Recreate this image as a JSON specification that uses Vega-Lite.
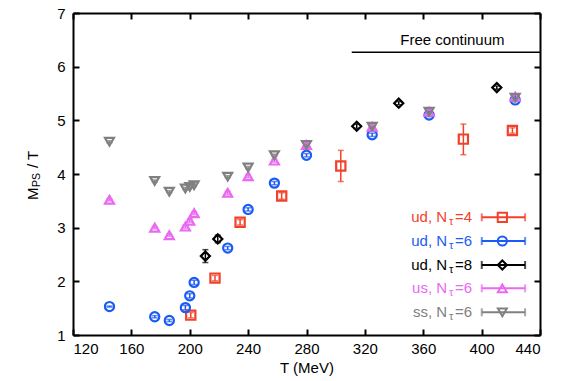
{
  "$schema": "https://vega.github.io/schema/vega-lite/v6.json",
  "width": 467,
  "height": 322,
  "autosize": {"type": "none"},
  "padding": {"left": 73, "top": 13, "right": 23, "bottom": 46},
  "background": "white",
  "config": {
    "view": {"stroke": null},
    "font": "Liberation Sans",
    "axis": {"domainColor": "black", "domainWidth": 2, "tickColor": "black", "tickWidth": 2, "tickSize": -6, "labelFont": "Liberation Sans", "labelFontSize": 15, "labelColor": "black", "grid": false, "titleFont": "Liberation Sans", "titleFontSize": 15, "titleFontWeight": "normal", "titleColor": "black"}
  },
  "datasets": {
    "pts": [
      {"s": "ud4", "T": 200.7, "v": 1.37, "lo": 1.32, "hi": 1.42},
      {"s": "ud4", "T": 217.3, "v": 2.06, "lo": 2.01, "hi": 2.11},
      {"s": "ud4", "T": 234.5, "v": 3.10, "lo": 3.05, "hi": 3.15},
      {"s": "ud4", "T": 263.0, "v": 3.59, "lo": 3.53, "hi": 3.65},
      {"s": "ud4", "T": 303.5, "v": 4.15, "lo": 3.86, "hi": 4.44},
      {"s": "ud4", "T": 387.5, "v": 4.65, "lo": 4.36, "hi": 4.93},
      {"s": "ud4", "T": 421.1, "v": 4.81, "lo": 4.76, "hi": 4.86},
      {"s": "ud6", "T": 145, "v": 1.53, "lo": 1.52, "hi": 1.54},
      {"s": "ud6", "T": 176, "v": 1.34, "lo": 1.32, "hi": 1.36},
      {"s": "ud6", "T": 186, "v": 1.27, "lo": 1.25, "hi": 1.29},
      {"s": "ud6", "T": 197, "v": 1.51, "lo": 1.47, "hi": 1.55},
      {"s": "ud6", "T": 200, "v": 1.73, "lo": 1.69, "hi": 1.77},
      {"s": "ud6", "T": 203, "v": 1.98, "lo": 1.94, "hi": 2.02},
      {"s": "ud6", "T": 226, "v": 2.62, "lo": 2.59, "hi": 2.65},
      {"s": "ud6", "T": 240, "v": 3.34, "lo": 3.31, "hi": 3.37},
      {"s": "ud6", "T": 258, "v": 3.83, "lo": 3.80, "hi": 3.86},
      {"s": "ud6", "T": 280, "v": 4.35, "lo": 4.32, "hi": 4.38},
      {"s": "ud6", "T": 325, "v": 4.73, "lo": 4.70, "hi": 4.76},
      {"s": "ud6", "T": 364, "v": 5.10, "lo": 5.07, "hi": 5.13},
      {"s": "ud6", "T": 423, "v": 5.38, "lo": 5.35, "hi": 5.41},
      {"s": "ud8", "T": 210.7, "v": 2.47, "lo": 2.35, "hi": 2.59},
      {"s": "ud8", "T": 219.2, "v": 2.79, "lo": 2.72, "hi": 2.86},
      {"s": "ud8", "T": 314.4, "v": 4.89, "lo": 4.85, "hi": 4.93},
      {"s": "ud8", "T": 343.2, "v": 5.32, "lo": 5.29, "hi": 5.35},
      {"s": "ud8", "T": 410.4, "v": 5.61, "lo": 5.58, "hi": 5.64},
      {"s": "us6", "T": 145, "v": 3.52, "lo": 3.50, "hi": 3.54},
      {"s": "us6", "T": 176, "v": 3.00, "lo": 2.98, "hi": 3.02},
      {"s": "us6", "T": 186, "v": 2.86, "lo": 2.84, "hi": 2.88},
      {"s": "us6", "T": 197, "v": 3.02, "lo": 2.99, "hi": 3.05},
      {"s": "us6", "T": 200, "v": 3.13, "lo": 3.10, "hi": 3.16},
      {"s": "us6", "T": 203, "v": 3.27, "lo": 3.24, "hi": 3.30},
      {"s": "us6", "T": 226, "v": 3.65, "lo": 3.62, "hi": 3.68},
      {"s": "us6", "T": 240, "v": 3.96, "lo": 3.93, "hi": 3.99},
      {"s": "us6", "T": 258, "v": 4.25, "lo": 4.22, "hi": 4.28},
      {"s": "us6", "T": 280, "v": 4.54, "lo": 4.51, "hi": 4.57},
      {"s": "us6", "T": 325, "v": 4.88, "lo": 4.85, "hi": 4.91},
      {"s": "us6", "T": 364, "v": 5.16, "lo": 5.13, "hi": 5.19},
      {"s": "us6", "T": 423, "v": 5.44, "lo": 5.41, "hi": 5.47},
      {"s": "ss6", "T": 145, "v": 4.60, "lo": 4.58, "hi": 4.62},
      {"s": "ss6", "T": 176, "v": 3.87, "lo": 3.85, "hi": 3.89},
      {"s": "ss6", "T": 186, "v": 3.67, "lo": 3.65, "hi": 3.69},
      {"s": "ss6", "T": 197, "v": 3.73, "lo": 3.71, "hi": 3.75},
      {"s": "ss6", "T": 200, "v": 3.76, "lo": 3.74, "hi": 3.78},
      {"s": "ss6", "T": 203, "v": 3.79, "lo": 3.77, "hi": 3.81},
      {"s": "ss6", "T": 226, "v": 3.95, "lo": 3.93, "hi": 3.97},
      {"s": "ss6", "T": 240, "v": 4.12, "lo": 4.10, "hi": 4.14},
      {"s": "ss6", "T": 258, "v": 4.35, "lo": 4.33, "hi": 4.37},
      {"s": "ss6", "T": 280, "v": 4.54, "lo": 4.52, "hi": 4.56},
      {"s": "ss6", "T": 325, "v": 4.88, "lo": 4.86, "hi": 4.90},
      {"s": "ss6", "T": 364, "v": 5.16, "lo": 5.14, "hi": 5.18},
      {"s": "ss6", "T": 423, "v": 5.42, "lo": 5.40, "hi": 5.44}
    ],
    "leg": [
      {"s": "ud4", "v": 3.193, "pre": "ud, N", "post": "=4"},
      {"s": "ud6", "v": 2.751, "pre": "ud, N", "post": "=6"},
      {"s": "ud8", "v": 2.304, "pre": "ud, N", "post": "=8"},
      {"s": "us6", "v": 1.870, "pre": "us, N", "post": "=6"},
      {"s": "ss6", "v": 1.423, "pre": "ss, N", "post": "=6"}
    ],
    "free": [{"T1": 311, "T2": 440, "v": 6.27, "tT": 380, "tv": 6.5, "label": "Free continuum"}]
  },
  "layer": [
    {
      "data": {"name": "pts"},
      "mark": {"type": "rule", "strokeWidth": 1.5},
      "encoding": {
        "x": {"field": "T", "type": "quantitative", "scale": {"domain": [120, 440], "nice": false, "zero": false},
              "axis": {"values": [120, 160, 200, 240, 280, 320, 360, 400, 440], "labelPadding": 12, "title": "T (MeV)", "titlePadding": 4}},
        "y": {"field": "lo", "type": "quantitative", "scale": {"domain": [1, 7], "nice": false, "zero": false},
              "axis": {"values": [1, 2, 3, 4, 5, 6, 7], "labelPadding": 14, "title": null}},
        "y2": {"field": "hi"},
        "color": {"field": "s", "type": "nominal", "scale": {"domain": ["ud4", "ud6", "ud8", "us6", "ss6"], "range": ["#f2412a", "#1b5bf5", "#000000", "#ea68f2", "#808080"]}, "legend": null}
      }
    },
    {
      "data": {"name": "pts"},
      "mark": {"type": "point", "shape": "stroke", "size": 36, "strokeWidth": 1.5, "filled": false},
      "encoding": {
        "x": {"field": "T", "type": "quantitative", "axis": null},
        "y": {"field": "lo", "type": "quantitative", "axis": null},
        "color": {"field": "s", "type": "nominal", "legend": null}
      }
    },
    {
      "data": {"name": "pts"},
      "mark": {"type": "point", "shape": "stroke", "size": 36, "strokeWidth": 1.5, "filled": false},
      "encoding": {
        "x": {"field": "T", "type": "quantitative", "axis": null},
        "y": {"field": "hi", "type": "quantitative", "axis": null},
        "color": {"field": "s", "type": "nominal", "legend": null}
      }
    },
    {
      "data": {"name": "pts"},
      "mark": {"type": "point", "filled": false, "strokeWidth": 2.2, "opacity": 1},
      "encoding": {
        "x": {"field": "T", "type": "quantitative", "axis": null},
        "y": {"field": "v", "type": "quantitative", "axis": null},
        "color": {"field": "s", "type": "nominal", "legend": null},
        "shape": {"field": "s", "type": "nominal", "scale": {"domain": ["ud4", "ud6", "ud8", "us6", "ss6"], "range": ["square", "circle", "diamond", "triangle-up", "triangle-down"]}, "legend": null},
        "size": {"field": "s", "type": "ordinal", "scale": {"domain": ["ud4", "ud6", "ud8", "us6", "ss6"], "range": [85, 80, 70, 110, 110]}, "legend": null}
      }
    },
    {
      "data": {"name": "free"},
      "mark": {"type": "rule", "strokeWidth": 1.5, "color": "black"},
      "encoding": {
        "x": {"field": "T1", "type": "quantitative", "axis": {"orient": "top", "labels": false, "title": null, "values": [120, 160, 200, 240, 280, 320, 360, 400, 440]}},
        "x2": {"field": "T2"},
        "y": {"field": "v", "type": "quantitative", "axis": {"orient": "right", "labels": false, "title": null, "values": [1, 2, 3, 4, 5, 6, 7]}}
      }
    },
    {
      "data": {"name": "free"},
      "mark": {"type": "text", "fontSize": 15, "align": "center", "baseline": "middle", "color": "black"},
      "encoding": {
        "x": {"field": "tT", "type": "quantitative", "axis": null},
        "y": {"field": "tv", "type": "quantitative", "axis": null},
        "text": {"field": "label"}
      }
    },
    {
      "data": {"values": [{}]},
      "mark": {"type": "text", "text": "M", "fontSize": 15, "angle": 270, "align": "left", "baseline": "middle", "color": "black"},
      "encoding": {"x": {"datum": 92.9, "type": "quantitative", "axis": null}, "y": {"datum": 3.515, "type": "quantitative", "axis": null}}
    },
    {
      "data": {"values": [{}]},
      "mark": {"type": "text", "text": "PS", "fontSize": 10.5, "angle": 270, "align": "left", "baseline": "middle", "dx": 13, "dy": 4, "color": "black"},
      "encoding": {"x": {"datum": 92.9, "type": "quantitative", "axis": null}, "y": {"datum": 3.515, "type": "quantitative", "axis": null}}
    },
    {
      "data": {"values": [{}]},
      "mark": {"type": "text", "text": "/ T", "fontSize": 15, "angle": 270, "align": "left", "baseline": "middle", "dx": 32, "color": "black"},
      "encoding": {"x": {"datum": 92.9, "type": "quantitative", "axis": null}, "y": {"datum": 3.515, "type": "quantitative", "axis": null}}
    },
    {
      "data": {"name": "leg"},
      "mark": {"type": "rule", "strokeWidth": 2},
      "encoding": {
        "x": {"datum": 400.1, "type": "quantitative", "axis": null},
        "x2": {"datum": 429.8},
        "y": {"field": "v", "type": "quantitative", "axis": null},
        "color": {"field": "s", "type": "nominal", "legend": null}
      }
    },
    {
      "data": {"name": "leg"},
      "mark": {"type": "point", "shape": "M0,-1L0,1", "size": 64, "strokeWidth": 2, "filled": false},
      "encoding": {
        "x": {"datum": 400.1, "type": "quantitative", "axis": null},
        "y": {"field": "v", "type": "quantitative", "axis": null},
        "color": {"field": "s", "type": "nominal", "legend": null}
      }
    },
    {
      "data": {"name": "leg"},
      "mark": {"type": "point", "shape": "M0,-1L0,1", "size": 64, "strokeWidth": 2, "filled": false},
      "encoding": {
        "x": {"datum": 429.8, "type": "quantitative", "axis": null},
        "y": {"field": "v", "type": "quantitative", "axis": null},
        "color": {"field": "s", "type": "nominal", "legend": null}
      }
    },
    {
      "data": {"name": "leg"},
      "mark": {"type": "point", "filled": false, "strokeWidth": 2, "opacity": 1},
      "encoding": {
        "x": {"datum": 414.2, "type": "quantitative", "axis": null},
        "y": {"field": "v", "type": "quantitative", "axis": null},
        "color": {"field": "s", "type": "nominal", "legend": null},
        "shape": {"field": "s", "type": "nominal", "legend": null},
        "size": {"field": "s", "type": "ordinal", "legend": null}
      }
    },
    {
      "data": {"name": "leg"},
      "mark": {"type": "text", "fontSize": 15, "align": "right", "baseline": "middle", "dx": -8},
      "encoding": {
        "x": {"datum": 381.8, "type": "quantitative", "axis": null},
        "y": {"field": "v", "type": "quantitative", "axis": null},
        "text": {"field": "pre"},
        "color": {"field": "s", "type": "nominal", "legend": null}
      }
    },
    {
      "data": {"name": "leg"},
      "mark": {"type": "text", "text": "τ", "fontSize": 11, "align": "center", "baseline": "middle", "dx": -4, "dy": 5},
      "encoding": {
        "x": {"datum": 381.8, "type": "quantitative", "axis": null},
        "y": {"field": "v", "type": "quantitative", "axis": null},
        "color": {"field": "s", "type": "nominal", "legend": null}
      }
    },
    {
      "data": {"name": "leg"},
      "mark": {"type": "text", "fontSize": 15, "align": "left", "baseline": "middle"},
      "encoding": {
        "x": {"datum": 381.8, "type": "quantitative", "axis": null},
        "y": {"field": "v", "type": "quantitative", "axis": null},
        "text": {"field": "post"},
        "color": {"field": "s", "type": "nominal", "legend": null}
      }
    }
  ],
  "resolve": {"axis": {"x": "independent", "y": "independent"}}
}
